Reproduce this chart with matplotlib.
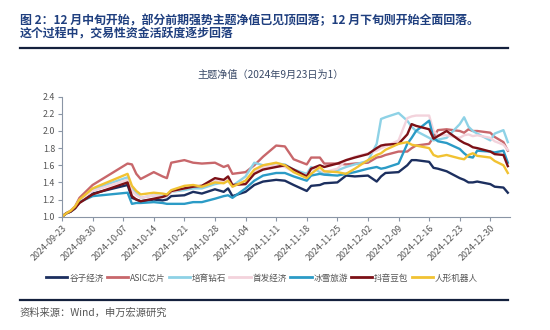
import numpy as np
import pandas as pd
import matplotlib
matplotlib.use('Agg')
import matplotlib.pyplot as plt
import matplotlib.dates as mdates
from matplotlib.lines import Line2D
from matplotlib.ticker import FormatStrFormatter

plt.rcParams['font.family'] = ['Noto Sans CJK SC', 'DejaVu Sans']

# trading days (sampled), net value with 2024-09-23 = 1
dates = ['2024-09-23', '2024-09-24', '2024-09-25', '2024-09-26', '2024-09-27', '2024-09-30',
         '2024-10-08', '2024-10-09', '2024-10-10', '2024-10-11', '2024-10-14', '2024-10-16', '2024-10-17', '2024-10-18',
         '2024-10-21', '2024-10-23', '2024-10-25', '2024-10-28', '2024-10-30', '2024-10-31', '2024-11-01',
         '2024-11-04', '2024-11-06', '2024-11-08', '2024-11-11', '2024-11-13', '2024-11-15',
         '2024-11-18', '2024-11-19', '2024-11-21', '2024-11-22', '2024-11-25', '2024-11-27', '2024-11-29',
         '2024-12-02', '2024-12-04', '2024-12-05', '2024-12-06', '2024-12-09', '2024-12-11', '2024-12-12', '2024-12-13',
         '2024-12-16', '2024-12-17', '2024-12-18', '2024-12-20', '2024-12-23', '2024-12-24', '2024-12-25', '2024-12-26', '2024-12-27',
         '2024-12-30', '2024-12-31', '2025-01-02', '2025-01-03']

guzi = [1.00, 1.04, 1.06, 1.10, 1.17, 1.27,
        1.37, 1.22, 1.20, 1.18, 1.20, 1.19, 1.20, 1.24,
        1.25, 1.29, 1.27, 1.32, 1.29, 1.33, 1.24,
        1.29, 1.37, 1.41, 1.43, 1.42, 1.37,
        1.30, 1.36, 1.37, 1.39, 1.40, 1.48, 1.47,
        1.48, 1.41, 1.47, 1.51, 1.52, 1.60, 1.66, 1.66,
        1.64, 1.57, 1.56, 1.53, 1.45, 1.43, 1.40, 1.40, 1.41,
        1.38, 1.35, 1.34, 1.28]

asic = [1.00, 1.04, 1.07, 1.12, 1.22, 1.37,
        1.62, 1.61, 1.50, 1.44, 1.52, 1.47, 1.45, 1.63,
        1.66, 1.63, 1.62, 1.63, 1.58, 1.60, 1.50,
        1.52, 1.60, 1.70, 1.83, 1.82, 1.67,
        1.61, 1.69, 1.69, 1.62, 1.62, 1.61, 1.62,
        1.63, 1.69, 1.70, 1.72, 1.76, 1.76, 1.80, 1.83,
        1.85, 1.93, 2.01, 2.02, 2.00, 1.98, 2.02, 2.00, 2.00,
        1.98, 1.93, 1.87, 1.77]

diamond = [1.00, 1.04, 1.06, 1.11, 1.19, 1.32,
           1.46, 1.33, 1.27, 1.22, 1.25, 1.24, 1.24, 1.29,
           1.31, 1.33, 1.33, 1.38, 1.40, 1.42, 1.36,
           1.47, 1.63, 1.60, 1.62, 1.61, 1.55,
           1.50, 1.58, 1.52, 1.50, 1.54, 1.58, 1.61,
           1.65, 1.85, 2.14, 2.16, 2.21, 2.12, 2.05, 2.00,
           1.92, 1.89, 1.90, 1.92, 2.08, 2.16, 2.05, 2.00, 1.97,
           1.89, 1.97, 2.01, 1.87]

shoufa = [1.00, 1.04, 1.06, 1.11, 1.19, 1.30,
          1.43, 1.30, 1.25, 1.22, 1.25, 1.23, 1.24, 1.29,
          1.33, 1.36, 1.36, 1.42, 1.40, 1.44, 1.35,
          1.42, 1.52, 1.58, 1.60, 1.58, 1.52,
          1.48, 1.55, 1.56, 1.52, 1.56, 1.66, 1.70,
          1.74, 1.77, 1.80, 1.82, 1.89, 2.15, 2.17, 2.18,
          2.18, 2.00, 1.95, 1.95, 1.92, 1.95, 1.96, 1.94, 1.95,
          1.92, 1.88, 1.84, 1.78]

bingxue = [1.00, 1.04, 1.06, 1.10, 1.17, 1.24,
           1.28, 1.15, 1.16, 1.16, 1.17, 1.16, 1.15, 1.15,
           1.15, 1.17, 1.17, 1.21, 1.24, 1.25, 1.22,
           1.33, 1.42, 1.48, 1.51, 1.51, 1.47,
           1.42, 1.48, 1.50, 1.49, 1.48, 1.50, 1.52,
           1.56, 1.58, 1.56, 1.57, 1.62, 1.85, 1.92, 2.00,
           2.12, 1.92, 1.88, 1.86, 1.79, 1.74, 1.70, 1.69, 1.77,
           1.76, 1.75, 1.77, 1.63]

douyin = [1.00, 1.04, 1.06, 1.10, 1.16, 1.26,
          1.40, 1.24, 1.20, 1.18, 1.21, 1.23, 1.25, 1.30,
          1.33, 1.35, 1.36, 1.45, 1.43, 1.47, 1.37,
          1.38, 1.50, 1.55, 1.58, 1.60, 1.55,
          1.47, 1.56, 1.60, 1.58, 1.62, 1.66, 1.69,
          1.73, 1.80, 1.83, 1.84, 1.85, 1.96, 2.08, 2.06,
          2.02, 1.91, 1.94, 2.00, 1.89, 1.86, 1.84, 1.81, 1.80,
          1.76, 1.73, 1.72, 1.59]

robot = [1.00, 1.04, 1.07, 1.12, 1.20, 1.33,
         1.50, 1.36, 1.30, 1.26, 1.28, 1.27, 1.26, 1.31,
         1.36, 1.37, 1.35, 1.40, 1.39, 1.42, 1.35,
         1.42, 1.55, 1.60, 1.63, 1.60, 1.52,
         1.45, 1.50, 1.58, 1.53, 1.52, 1.50, 1.56,
         1.66, 1.72, 1.74, 1.78, 1.85, 1.87, 1.84, 1.83,
         1.80, 1.72, 1.70, 1.72, 1.68, 1.67, 1.72, 1.74, 1.71,
         1.69, 1.65, 1.60, 1.51]

names = ['谷子经济', 'ASIC芯片', '培育钻石', '首发经济', '冰雪旅游', '抖音豆包', '人形机器人']
colors = ['#1c2f5f', '#c8676b', '#8ed2e6', '#f3d3dc', '#2b9bc6', '#7c1016', '#f1c232']

fig_title = ['图 2：12 月中旬开始，部分前期强势主题净值已见顶回落；12 月下旬则开始全面回落。',
             '这个过程中，交易性资金活跃度逐步回落']
chart_title = '主题净值（2024年9月23日为1）'
source = '资料来源：Wind，申万宏源研究'

W, H = 550, 330
fig = plt.figure(figsize=(W / 100, H / 100), dpi=100)

# header and footer
fig.text(20 / W, 1 - 20.5 / H, fig_title[0], fontsize=8.6, fontweight='bold', color='#1f3f7f', va='center')
fig.text(20 / W, 1 - 34 / H, fig_title[1], fontsize=8.6, fontweight='bold', color='#1f3f7f', va='center')
fig.add_artist(Line2D([20 / W, 508 / W], [1 - 47.5 / H] * 2, color='#14213d', lw=1.6))
fig.add_artist(Line2D([20 / W, 508 / W], [1 - 300 / H] * 2, color='#14213d', lw=1.6))
fig.text(20 / W, 1 - 313 / H, source, fontsize=7.4, color='#555555', va='center')
fig.text(271 / W, 1 - 75 / H, chart_title, fontsize=7.3, color='#3a4a68', ha='center', va='center')

ax = fig.add_axes([62 / W, 1 - 216.7 / H, 448 / W, 120 / H])
x = pd.to_datetime(dates)
for vals, name, c in zip([guzi, asic, diamond, shoufa, bingxue, douyin, robot], names, colors):
    ax.plot(x, vals, color=c, lw=1.7, label=name, solid_joinstyle='round')

ax.set_ylim(1.0, 2.4)
ax.set_yticks(np.arange(1.0, 2.41, 0.2))
ax.yaxis.set_major_formatter(FormatStrFormatter('%.1f'))
ax.set_xlim(pd.Timestamp('2024-09-23'), pd.Timestamp('2025-01-03 12:00'))
ax.set_xticks(pd.date_range('2024-09-23', '2024-12-30', freq='7D'))
ax.xaxis.set_major_formatter(mdates.DateFormatter('%Y-%m-%d'))
plt.setp(ax.get_xticklabels(), rotation=45, ha='right', va='top', rotation_mode='anchor')

for s in ['top', 'right']:
    ax.spines[s].set_visible(False)
for s in ['left', 'bottom']:
    ax.spines[s].set_color('#8a95a5')
    ax.spines[s].set_linewidth(0.8)
ax.tick_params(axis='both', labelsize=6.4, labelcolor='#555555', color='#8a95a5', length=3, width=0.8, pad=2)

handles = [Line2D([], [], color=c, lw=2) for c in colors]
fig.legend(handles, names, loc='center', bbox_to_anchor=(262 / W, 1 - 278 / H), ncol=7, frameon=False,
           fontsize=6.2, labelcolor='#555555', handlelength=2.5, handletextpad=0.2, columnspacing=0.35)

fig.savefig('out.png', dpi=100)
